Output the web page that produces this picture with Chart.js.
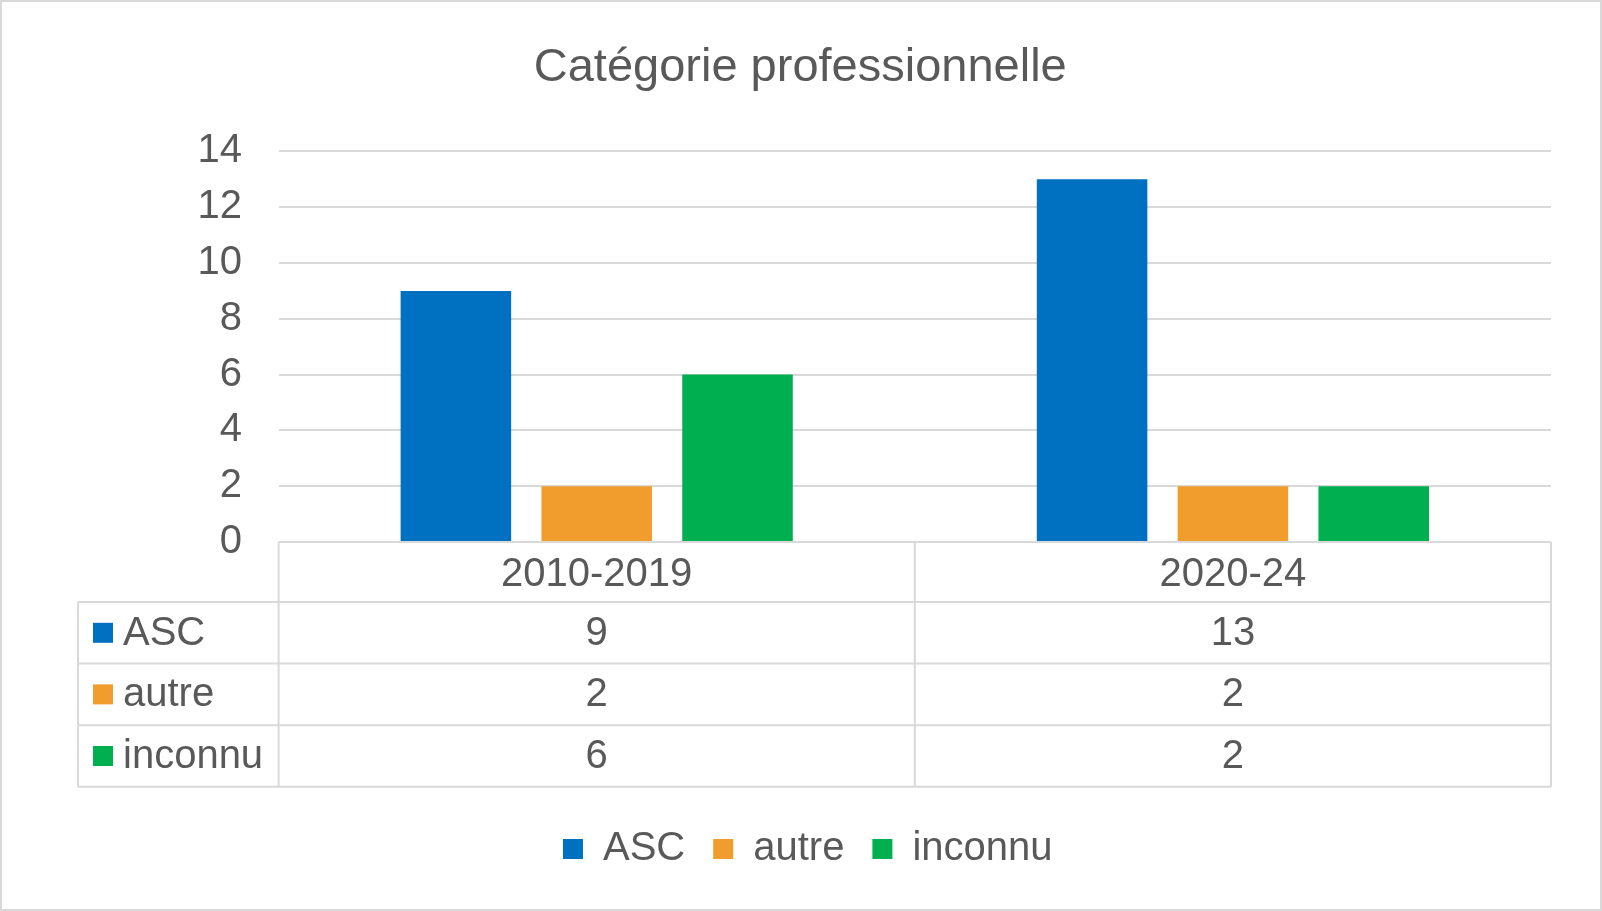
<!DOCTYPE html>
<html>
<head>
<meta charset="utf-8">
<script src="https://cdn.jsdelivr.net/npm/chart.js@4.4.1/dist/chart.umd.min.js"></script>
<style>
  html, body { margin: 0; padding: 0; background: #ffffff; }
  #wrap { width: 1602px; height: 911px; position: relative; }
  canvas { display: block; }
</style>
</head>
<body>
<div id="wrap"><canvas id="c" width="1602" height="911"></canvas></div>
<script>
const chartTitle = 'Catégorie professionnelle';
const categories = ['2010-2019', '2020-24'];
const seriesNames = ['ASC', 'autre', 'inconnu'];
const ascValues = [9, 13];
const autreValues = [2, 2];
const inconnuValues = [6, 2];
const seriesColors = ['#0070C0', '#F09D2E', '#00B050'];

const FONT = '"Liberation Sans", Arial, sans-serif';
const TEXT = '#595959';
const LINE = '#D9D9D9';

const HEADER_H = 60;
const ROW_H = 61.6;
const TABLE_LEFT = 78;
const TITLE_SHIFT = 7.5;

const tablePlugin = {
  id: 'dataTable',
  afterLayout(chart) {
    if (chart.titleBlock) {
      chart.titleBlock.left -= TITLE_SHIFT;
      chart.titleBlock.right -= TITLE_SHIFT;
    }
  },
  beforeDraw(chart) {
    const ctx = chart.ctx;
    ctx.save();
    ctx.fillStyle = '#ffffff';
    ctx.fillRect(0, 0, chart.width, chart.height);
    ctx.restore();
  },
  afterDraw(chart) {
    const ctx = chart.ctx;
    const xs = chart.scales.x;
    const area = chart.chartArea;
    const left = area.left, right = area.right, top = area.bottom;
    const n = chart.data.datasets.length;
    const bottom = top + HEADER_H + n * ROW_H;
    const centers = categories.map((_, i) => xs.getPixelForValue(i));
    const seps = [];
    for (let i = 0; i < centers.length - 1; i++) seps.push((centers[i] + centers[i + 1]) / 2);

    ctx.save();
    ctx.strokeStyle = LINE;
    ctx.lineWidth = 2;
    ctx.beginPath();
    ctx.moveTo(left, top); ctx.lineTo(right, top);
    for (let r = 0; r <= n; r++) {
      const y = top + HEADER_H + r * ROW_H;
      ctx.moveTo(TABLE_LEFT, y); ctx.lineTo(right, y);
    }
    ctx.moveTo(TABLE_LEFT, top + HEADER_H); ctx.lineTo(TABLE_LEFT, bottom);
    ctx.moveTo(left, top); ctx.lineTo(left, bottom);
    seps.forEach(x => { ctx.moveTo(x, top); ctx.lineTo(x, bottom); });
    ctx.moveTo(right, top); ctx.lineTo(right, bottom);
    ctx.stroke();

    ctx.fillStyle = TEXT;
    ctx.font = '40px ' + FONT;
    ctx.textBaseline = 'middle';
    ctx.textAlign = 'center';
    categories.forEach((c, i) => ctx.fillText(c, centers[i], top + HEADER_H / 2 + 3));

    chart.data.datasets.forEach((ds, r) => {
      const cy = top + HEADER_H + r * ROW_H + ROW_H / 2;
      ctx.fillStyle = ds.backgroundColor;
      ctx.fillRect(TABLE_LEFT + 15, cy - 10, 20, 20);
      ctx.fillStyle = TEXT;
      ctx.textAlign = 'left';
      ctx.fillText(ds.label, TABLE_LEFT + 45, cy + 1);
      ctx.textAlign = 'center';
      ds.data.forEach((v, i) => ctx.fillText(String(v), centers[i], cy + 1));
    });

    ctx.strokeStyle = LINE;
    ctx.lineWidth = 2;
    ctx.strokeRect(1, 1, chart.width - 2, chart.height - 2);
    ctx.restore();
  }
};

const valueLists = [ascValues, autreValues, inconnuValues];

new Chart(document.getElementById('c'), {
  type: 'bar',
  data: {
    labels: categories,
    datasets: seriesNames.map((name, i) => ({
      label: name,
      data: valueLists[i],
      backgroundColor: seriesColors[i],
      borderWidth: 0,
      categoryPercentage: 0.664,
      barPercentage: 0.785
    }))
  },
  options: {
    responsive: false,
    devicePixelRatio: 1,
    animation: false,
    layout: { padding: { left: 64.5, right: 51, top: 30, bottom: 32 } },
    plugins: {
      title: {
        display: true,
        text: chartTitle,
        color: TEXT,
        font: { family: FONT, size: 47, weight: 'normal' },
        padding: { top: 10, bottom: 55 }
      },
      legend: {
        position: 'bottom',
        labels: {
          boxWidth: 20,
          boxHeight: 20,
          padding: 28,
          color: TEXT,
          font: { family: FONT, size: 40 }
        }
      },
      tooltip: { enabled: false }
    },
    scales: {
      x: {
        grid: { display: false },
        border: { display: false },
        ticks: { display: false },
        afterFit(scale) { scale.height = 259; }
      },
      y: {
        min: 0,
        max: 14,
        ticks: {
          stepSize: 2,
          color: TEXT,
          padding: 36.6,
          font: { family: FONT, size: 40 }
        },
        grid: { color: LINE, lineWidth: 2, drawTicks: false },
        border: { display: false },
        afterFit(scale) { scale.width = 214.1; }
      }
    }
  },
  plugins: [tablePlugin]
});
</script>
</body>
</html>
